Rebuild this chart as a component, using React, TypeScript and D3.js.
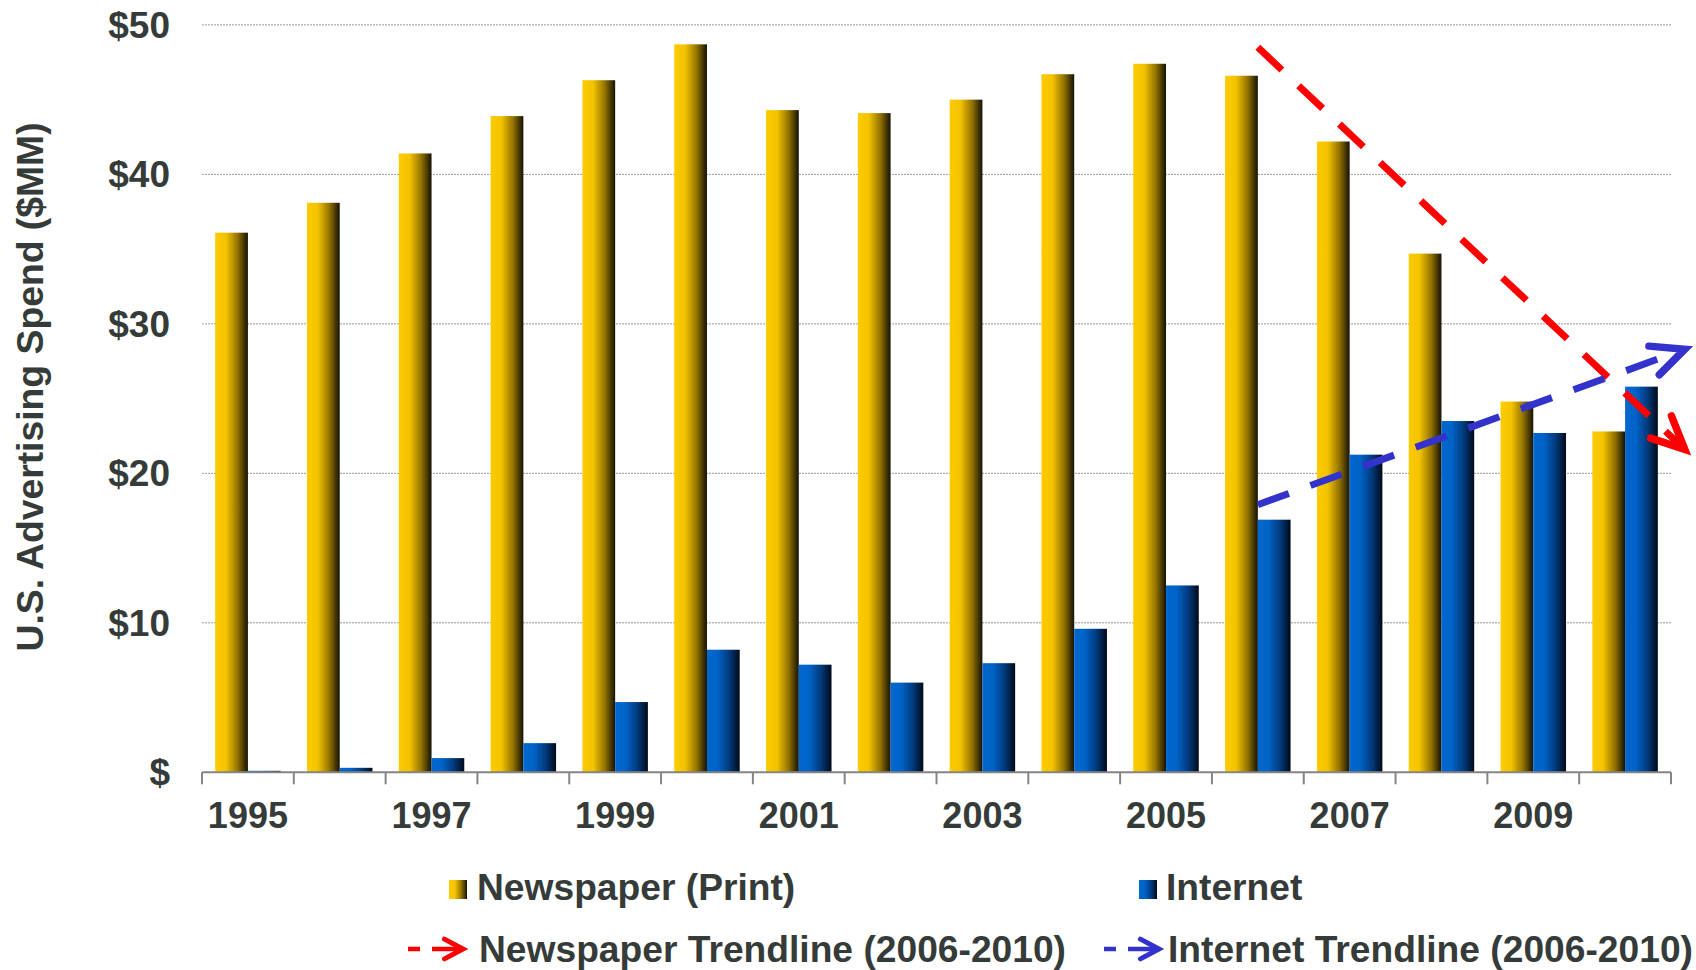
import React, { useEffect } from 'react';
import * as d3 from 'd3';

// U.S. advertising spend by year, $MM
const years = [1995, 1996, 1997, 1998, 1999, 2000, 2001, 2002, 2003, 2004, 2005, 2006, 2007, 2008, 2009, 2010];
const newspaperSpend = [36.1, 38.1, 41.4, 43.9, 46.3, 48.7, 44.3, 44.1, 45.0, 46.7, 47.4, 46.6, 42.2, 34.7, 24.8, 22.8];
const internetSpend = [0.1, 0.3, 0.95, 1.95, 4.7, 8.2, 7.2, 6.0, 7.3, 9.6, 12.5, 16.9, 21.25, 23.5, 22.7, 25.8];

const yTicks = [0, 10, 20, 30, 40, 50];
const yTickLabels = ['$', '$10', '$20', '$30', '$40', '$50'];
const yearLabels = ['1995', '1997', '1999', '2001', '2003', '2005', '2007', '2009'];

// Trend arrows (2006-2010), endpoints in year / $MM
const newspaperTrend = [{ year: 2006, value: 48.5 }, { year: 2010.65, value: 21.6 }];
const internetTrend = [{ year: 2006, value: 17.9 }, { year: 2010.65, value: 28.3 }];

const W = 1696;
const H = 970;
const PLOT_LEFT = 202;
const PLOT_RIGHT = 1671;
const PLOT_TOP = 24.9;
const PLOT_BOTTOM = 772.3;

const TEXT = '#353b38';
const FONT = '"Liberation Sans", Arial, Helvetica, sans-serif';
const RED = '#ff0000';
const BLUE = '#3333cc';

function chevron(tipX: number, tipY: number, fromX: number, fromY: number, len: number, spread: number) {
  const ang = Math.atan2(fromY - tipY, fromX - tipX);
  const a1 = ang + spread;
  const a2 = ang - spread;
  return `M${tipX + len * Math.cos(a1)},${tipY + len * Math.sin(a1)}L${tipX},${tipY}L${tipX + len * Math.cos(a2)},${tipY + len * Math.sin(a2)}`;
}

export default function App() {
  useEffect(() => {
    document.body.style.margin = '0';
    document.body.style.overflow = 'hidden';
  }, []);

  const x0 = d3.scaleBand<number>()
    .domain(years)
    .range([PLOT_LEFT, PLOT_RIGHT])
    .paddingInner(0.287)
    .paddingOuter(0.1435);
  const x1 = d3.scaleBand<string>()
    .domain(['newspaper', 'internet'])
    .range([0, x0.bandwidth()]);
  const y = d3.scaleLinear().domain([0, 50]).range([PLOT_BOTTOM, PLOT_TOP]);

  const step = x0.step();
  const center = (yr: number) => (x0(yr) as number) + x0.bandwidth() / 2;
  const xYear = d3.scaleLinear()
    .domain([years[0], years[years.length - 1]])
    .range([center(years[0]), center(years[years.length - 1])]);

  const boundaries = d3.range(years.length + 1).map((i) => PLOT_LEFT + i * step);

  const trendLine = d3.line<{ year: number; value: number }>()
    .x((d) => xYear(d.year))
    .y((d) => y(d.value));

  const trends = [
    { data: newspaperTrend, color: RED },
    { data: internetTrend, color: BLUE },
  ];

  const series = [
    { key: 'newspaper', values: newspaperSpend, fill: 'url(#gold)' },
    { key: 'internet', values: internetSpend, fill: 'url(#blue)' },
  ];

  return (
    <svg width={W} height={H} style={{ position: 'absolute', left: 0, top: 0, display: 'block', background: '#fff' }}
      fontFamily={FONT}>
      <defs>
        <linearGradient id="gold" x1="0" x2="1" y1="0" y2="0">
          <stop offset="0" stopColor="#fccb00" />
          <stop offset="0.33" stopColor="#f4c300" />
          <stop offset="0.68" stopColor="#957400" />
          <stop offset="1" stopColor="#141206" />
        </linearGradient>
        <linearGradient id="blue" x1="0" x2="1" y1="0" y2="0">
          <stop offset="0" stopColor="#0068d0" />
          <stop offset="0.33" stopColor="#0062c6" />
          <stop offset="0.68" stopColor="#023a7c" />
          <stop offset="1" stopColor="#000a18" />
        </linearGradient>
      </defs>

      {/* gridlines */}
      {yTicks.filter((t) => t > 0).map((t) => (
        <line key={t} x1={PLOT_LEFT} x2={PLOT_RIGHT} y1={y(t)} y2={y(t)}
          stroke="#9a9a9a" strokeWidth={1} strokeDasharray="2 1" />
      ))}

      {/* y tick labels */}
      {yTicks.map((t, i) => (
        <text key={t} x={170} y={y(t) + 13} textAnchor="end" fontSize={37} fontWeight="bold" fill={TEXT}>
          {yTickLabels[i]}
        </text>
      ))}

      {/* y axis title */}
      <text transform="translate(43,387) rotate(-90)" textAnchor="middle" fontSize={37.3} fontWeight="bold" fill={TEXT}>
        U.S. Advertising Spend ($MM)
      </text>

      {/* bars */}
      {series.map((s) => (
        <g key={s.key}>
          {years.map((yr, i) => (
            <rect key={yr}
              x={(x0(yr) as number) + (x1(s.key) as number)}
              y={y(s.values[i])}
              width={x1.bandwidth()}
              height={y(0) - y(s.values[i])}
              fill={s.fill} />
          ))}
        </g>
      ))}

      {/* x axis */}
      <line x1={PLOT_LEFT} x2={PLOT_RIGHT} y1={PLOT_BOTTOM} y2={PLOT_BOTTOM} stroke="#858585" strokeWidth={2} />
      {boundaries.map((bx, i) => (
        <line key={i} x1={bx} x2={bx} y1={PLOT_BOTTOM} y2={PLOT_BOTTOM + 12} stroke="#858585" strokeWidth={2} />
      ))}
      {yearLabels.map((lbl) => (
        <text key={lbl} x={center(+lbl)} y={828} textAnchor="middle" fontSize={36} fontWeight="bold" fill={TEXT}>
          {lbl}
        </text>
      ))}

      {/* trend arrows */}
      {trends.map((t, i) => {
        const a = t.data[0];
        const b = t.data[1];
        const ax = xYear(a.year), ay = y(a.value);
        const bx = xYear(b.year), by = y(b.value);
        return (
          <g key={i}>
            <path d={trendLine(t.data) as string} fill="none" stroke={t.color} strokeWidth={7}
              strokeDasharray="33 23" />
            <path d={chevron(bx, by, ax, ay, 36, (25 * Math.PI) / 180)} fill="none" stroke={t.color}
              strokeWidth={7.5} strokeLinecap="round" strokeLinejoin="miter" />
          </g>
        );
      })}

      {/* legend */}
      <rect x={449} y={880} width={18} height={19} fill="url(#gold)" />
      <text x={477} y={900} fontSize={37.2} fontWeight="bold" fill={TEXT}>Newspaper (Print)</text>
      <rect x={1139} y={880} width={18} height={19} fill="url(#blue)" />
      <text x={1166} y={900} fontSize={37.2} fontWeight="bold" fill={TEXT}>Internet</text>

      {[
        { x: 408, color: RED, label: 'Newspaper Trendline (2006-2010)', tx: 479 },
        { x: 1104, color: BLUE, label: 'Internet Trendline (2006-2010)', tx: 1168 },
      ].map((l) => (
        <g key={l.label}>
          <line x1={l.x} x2={l.x + 12} y1={949} y2={949} stroke={l.color} strokeWidth={4.5} />
          <line x1={l.x + 24} x2={l.x + 54} y1={949} y2={949} stroke={l.color} strokeWidth={4.5} />
          <path d={chevron(l.x + 55, 949, l.x, 949, 21, (28 * Math.PI) / 180)} fill="none" stroke={l.color}
            strokeWidth={5} strokeLinecap="round" />
          <text x={l.tx} y={962} fontSize={37.2} fontWeight="bold" fill={TEXT}>{l.label}</text>
        </g>
      ))}
    </svg>
  );
}
